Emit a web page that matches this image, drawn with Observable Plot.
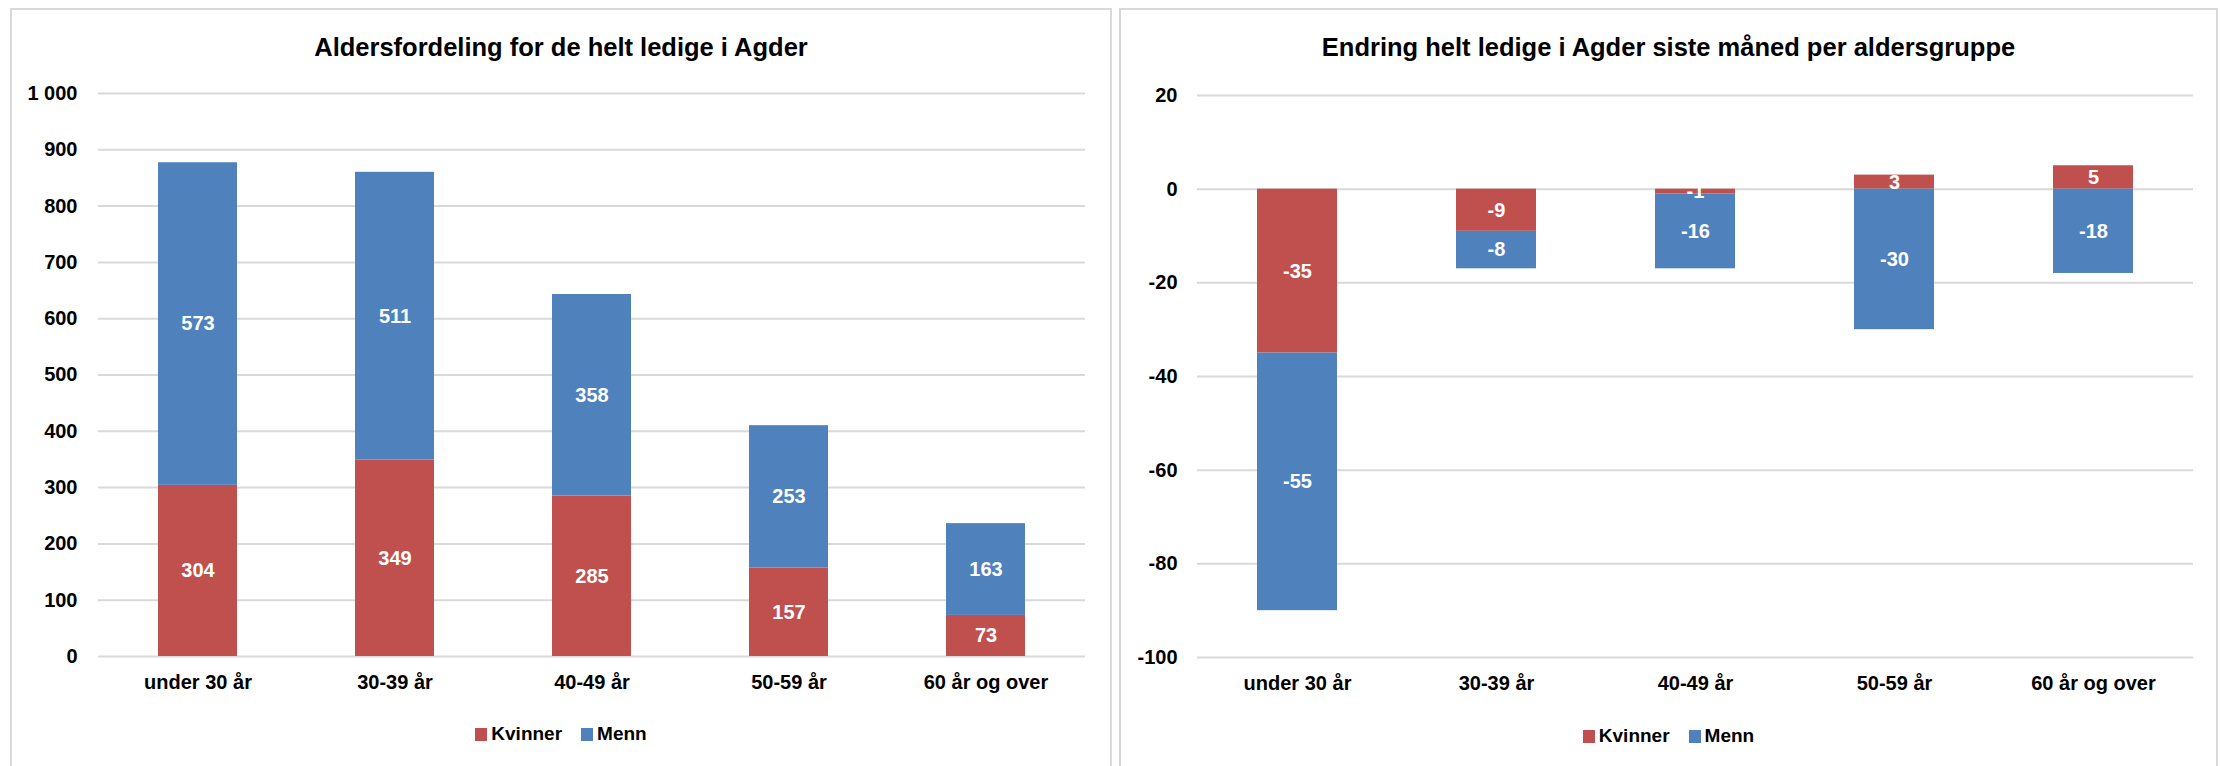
<!DOCTYPE html>
<html>
<head>
<meta charset="utf-8">
<script src="https://cdn.jsdelivr.net/npm/d3@7"></script>
<script src="https://cdn.jsdelivr.net/npm/@observablehq/plot@0.6"></script>
<style>
  html, body { margin: 0; padding: 0; background: #fff; width: 2221px; height: 766px; overflow: hidden; }
  body { position: relative; font-family: "Liberation Sans", Arial, sans-serif; font-weight: bold; color: #000; }
  .panel { position: absolute; border: 2px solid #d9d9d9; background: #fff; box-sizing: border-box; }
  .title { position: absolute; left: 0; right: 0; text-align: center; font-size: 25.5px; font-weight: bold; }
  .chart { position: absolute; }
  .legend { position: absolute; left: 0; right: 0; display: flex; justify-content: center; align-items: center; font-size: 19px; font-weight: bold; gap: 19px; }
  .legend .item { display: flex; align-items: center; gap: 4px; }
  .legend .sw { width: 12px; height: 13px; display: inline-block; }
</style>
</head>
<body>
<div id="p1" class="panel" style="left:10px; top:8px; width:1102px; height:770px;">
  <div class="title" style="top:23px;">Aldersfordeling for de helt ledige i Agder</div>
  <div id="c1" class="chart" style="left:0px; top:60px;"></div>
  <div id="l1" class="legend" style="top:713px;"></div>
</div>
<div id="p2" class="panel" style="left:1119px; top:8px; width:1099px; height:770px;">
  <div class="title" style="top:23px;">Endring helt ledige i Agder siste måned per aldersgruppe</div>
  <div id="c2" class="chart" style="left:0px; top:60px;"></div>
  <div id="l2" class="legend" style="top:715px;"></div>
</div>
<script>
const groups = ["under 30 år", "30-39 år", "40-49 år", "50-59 år", "60 år og over"];
const series = ["Kvinner", "Menn"];
const colors = ["#C0504D", "#4F81BD"];

const ledigeKvinner = [304, 349, 285, 157, 73];
const ledigeMenn = [573, 511, 358, 253, 163];

const endringKvinner = [-35, -9, -1, 3, 5];
const endringMenn = [-55, -8, -16, -30, -18];

const ticksLeft = [0, 100, 200, 300, 400, 500, 600, 700, 800, 900, 1000];
const ticksRight = [-100, -80, -60, -40, -20, 0, 20];

function rows(k, m) {
  const out = [];
  groups.forEach((g, i) => out.push({group: g, sex: "Kvinner", value: k[i]}));
  groups.forEach((g, i) => out.push({group: g, sex: "Menn", value: m[i]}));
  return out;
}

const fmtLeft = d => d3.format(",")(d).replace(/,/g, " ");
const fmtRight = d => String(d);

function makeChart(data, {width, height, marginLeft, marginRight, marginTop, marginBottom, domain, ticks, fmt, tickPadding}) {
  return Plot.plot({
    width, height, marginLeft, marginRight, marginTop, marginBottom,
    style: {fontFamily: "'Liberation Sans', Arial, sans-serif", fontSize: "20px", fontWeight: "bold", color: "#000", background: "transparent", overflow: "visible"},
    x: {domain: groups, paddingInner: 0.6, paddingOuter: 0.3, label: null},
    y: {domain, label: null},
    color: {domain: series, range: colors},
    marks: [
      Plot.gridY(ticks, {stroke: "#d9d9d9", strokeOpacity: 1, strokeWidth: 2}),
      Plot.barY(data, Plot.stackY({x: "group", y: "value", z: "sex", fill: "sex"})),
      Plot.text(data, Plot.stackY({x: "group", y: "value", z: "sex", text: d => fmt(d.value), fill: "white", fontSize: 20, fontWeight: "bold"})),
      Plot.axisY(ticks, {tickSize: 0, tickPadding, tickFormat: fmt, fontSize: 20, fontWeight: "bold", label: null}),
      Plot.axisX({tickSize: 0, tickPadding: 18, fontSize: 20, fontWeight: "bold", label: null})
    ]
  });
}

document.getElementById("c1").appendChild(makeChart(rows(ledigeKvinner, ledigeMenn), {
  width: 1097, height: 635, marginLeft: 86, marginRight: 24, marginTop: 23, marginBottom: 49,
  domain: [0, 1000], ticks: ticksLeft, fmt: fmtLeft, tickPadding: 21
}));

document.getElementById("c2").appendChild(makeChart(rows(endringKvinner, endringMenn), {
  width: 1095, height: 637, marginLeft: 76, marginRight: 23, marginTop: 25, marginBottom: 50,
  domain: [-100, 20], ticks: ticksRight, fmt: fmtRight, tickPadding: 20
}));

function legend(id) {
  const el = document.getElementById(id);
  series.forEach((s, i) => {
    const it = document.createElement("div");
    it.className = "item";
    const sw = document.createElement("span");
    sw.className = "sw";
    sw.style.background = colors[i];
    const t = document.createElement("span");
    t.textContent = s;
    it.appendChild(sw); it.appendChild(t);
    el.appendChild(it);
  });
}
legend("l1");
legend("l2");
</script>
</body>
</html>
